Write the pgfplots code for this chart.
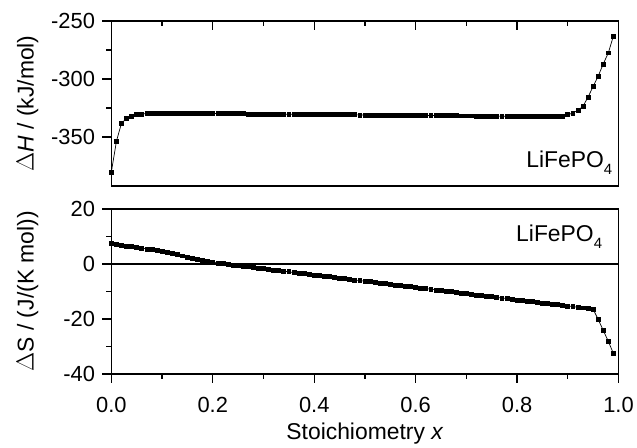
\documentclass[border=0pt]{standalone}
\usepackage{pgfplots}
\pgfplotsset{compat=1.18}
\usepackage{fontspec}
\setmainfont{Liberation Sans}
\newcommand{\sub}[1]{\raisebox{-0.55ex}{\fontsize{15}{15}\selectfont #1}}
\begin{document}
\begin{tikzpicture}
\pgfplotsset{
  every axis/.append style={
    scale only axis, width=510pt, height=166pt,
    xmin=0, xmax=1,
    axis line style={line width=1.6pt},
    /pgf/number format/assume math mode=true,
    /pgf/number format/fixed, /pgf/number format/precision=1,
    tick label style={font=\fontsize{22}{25}\selectfont},
    yticklabel style={xshift=-4pt},
    label style={font=\fontsize{23}{27}\selectfont},
    major tick length=9pt, minor tick length=5pt,
    tick style={line width=1.4pt, black},
    minor tick num=1,
    tick align=outside,
    ytick pos=left,
    ylabel style={at={(rel axis cs:-0.137,0.5)}, anchor=south},
  },
  dat/.style={black, line width=0.7pt, mark=square*, mark size=2pt},
}
\begin{axis}[name=top,
  ymin=-392, ymax=-250,
  ytick={-350,-300,-250},
  yticklabel style={/pgf/number format/fixed, /pgf/number format/precision=0},
  xtick={0,0.2,0.4,0.6,0.8,1.0},
  xticklabels={},
  xtick pos=upper, xtick align=inside,
  ylabel={$\Delta$\textit{H} / (kJ/mol)},
]
\addplot[dat] coordinates {
(0.00,-380) (0.01,-353.5) (0.02,-338) (0.03,-334) (0.04,-332) (0.05,-330.5)
(0.06,-330) (0.07,-329.7) (0.08,-329.6) (0.09,-329.6) (0.10,-329.6)
(0.11,-329.6) (0.12,-329.6) (0.13,-329.6) (0.14,-329.6) (0.15,-329.6)
(0.16,-329.6) (0.17,-329.6) (0.18,-329.7) (0.19,-329.7) (0.20,-329.7)
(0.21,-329.8) (0.22,-329.8) (0.23,-329.8) (0.24,-329.9) (0.25,-329.9)
(0.26,-329.9) (0.27,-330.0) (0.28,-330.0) (0.29,-330.1) (0.30,-330.1)
(0.31,-330.1) (0.32,-330.2) (0.33,-330.2) (0.34,-330.3) (0.35,-330.3)
(0.36,-330.3) (0.37,-330.4) (0.38,-330.4) (0.39,-330.5) (0.40,-330.5)
(0.41,-330.5) (0.42,-330.6) (0.43,-330.6) (0.44,-330.7) (0.45,-330.7)
(0.46,-330.7) (0.47,-330.8) (0.48,-330.8) (0.49,-330.9) (0.50,-330.9)
(0.51,-330.9) (0.52,-331.0) (0.53,-331.0) (0.54,-331.1) (0.55,-331.1)
(0.56,-331.1) (0.57,-331.2) (0.58,-331.2) (0.59,-331.3) (0.60,-331.3)
(0.61,-331.3) (0.62,-331.4) (0.63,-331.4) (0.64,-331.5) (0.65,-331.5)
(0.66,-331.5) (0.67,-331.6) (0.68,-331.6) (0.69,-331.7) (0.70,-331.7)
(0.71,-331.7) (0.72,-331.8) (0.73,-331.8) (0.74,-331.9) (0.75,-331.9)
(0.76,-331.9) (0.77,-332.0) (0.78,-332.0) (0.79,-332.1) (0.80,-332.1)
(0.81,-332.1) (0.82,-332.2) (0.83,-332.2) (0.84,-332.3) (0.85,-332.3)
(0.86,-332.3) (0.87,-332.3) (0.88,-332.2) (0.89,-331.8) (0.90,-330.8)
(0.91,-329.2) (0.92,-327) (0.93,-323.5) (0.94,-315.5) (0.95,-306.5)
(0.96,-297.5) (0.97,-287) (0.98,-277.5) (0.99,-263)
};
\node[anchor=base east, inner sep=0pt, font=\fontsize{23}{27}\selectfont]
  at (rel axis cs:0.988,0.11) {LiFePO\sub{4}};
\end{axis}
\begin{axis}[at={(top.south west)}, anchor=north west, yshift=-23pt,
  ymin=-40, ymax=20,
  ytick={-40,-20,0,20},
  yticklabel style={/pgf/number format/fixed, /pgf/number format/precision=0},
  xtick={0,0.2,0.4,0.6,0.8,1.0},
  xticklabel style={/pgf/number format/fixed zerofill, /pgf/number format/precision=1, yshift=-11pt},
  xtick pos=lower,
  ylabel={$\Delta$S / (J/(K mol))},
  xlabel={Stoichiometry \textit{x}},
  xlabel style={yshift=-3pt},
]
\addplot[black, line width=1.4pt] coordinates {(0,0) (1,0)};
\addplot[dat] coordinates {
(0.00,7.5) (0.01,7.1) (0.02,6.8) (0.03,6.5) (0.04,6.3) (0.05,6.0)
(0.06,5.7) (0.07,5.4) (0.08,5.1) (0.09,4.8) (0.10,4.5)
(0.11,4.1) (0.12,3.7) (0.13,3.3) (0.14,2.9) (0.15,2.5)
(0.16,2.1) (0.17,1.7) (0.18,1.3) (0.19,0.9) (0.20,0.6)
(0.21,0.3) (0.22,0.0) (0.23,-0.2) (0.24,-0.5) (0.25,-0.7)
(0.26,-0.9) (0.27,-1.1) (0.28,-1.4) (0.29,-1.6) (0.30,-1.8)
(0.31,-2.0) (0.32,-2.3) (0.33,-2.5) (0.34,-2.7) (0.35,-2.9)
(0.36,-3.2) (0.37,-3.4) (0.38,-3.6) (0.39,-3.8) (0.40,-4.1)
(0.41,-4.3) (0.42,-4.5) (0.43,-4.7) (0.44,-5.0) (0.45,-5.2)
(0.46,-5.4) (0.47,-5.6) (0.48,-5.9) (0.49,-6.1) (0.50,-6.3)
(0.51,-6.5) (0.52,-6.8) (0.53,-7.0) (0.54,-7.2) (0.55,-7.4)
(0.56,-7.7) (0.57,-7.9) (0.58,-8.1) (0.59,-8.3) (0.60,-8.6)
(0.61,-8.8) (0.62,-9.0) (0.63,-9.2) (0.64,-9.5) (0.65,-9.7)
(0.66,-9.9) (0.67,-10.1) (0.68,-10.4) (0.69,-10.6) (0.70,-10.8)
(0.71,-11.0) (0.72,-11.3) (0.73,-11.5) (0.74,-11.7) (0.75,-11.9)
(0.76,-12.2) (0.77,-12.4) (0.78,-12.6) (0.79,-12.8) (0.80,-13.1)
(0.81,-13.3) (0.82,-13.5) (0.83,-13.7) (0.84,-14.0) (0.85,-14.2)
(0.86,-14.4) (0.87,-14.6) (0.88,-14.9) (0.89,-15.1) (0.90,-15.3)
(0.91,-15.5) (0.92,-15.8) (0.93,-16.0) (0.94,-16.2) (0.95,-16.5)
(0.96,-20.2) (0.97,-24.2) (0.98,-28.2) (0.99,-32.6)
};
\node[anchor=base east, inner sep=0pt, font=\fontsize{23}{27}\selectfont]
  at (rel axis cs:0.968,0.80) {LiFePO\sub{4}};
\end{axis}
\path (top.north west) ++(-112pt,21pt);
\end{tikzpicture}
\end{document}
